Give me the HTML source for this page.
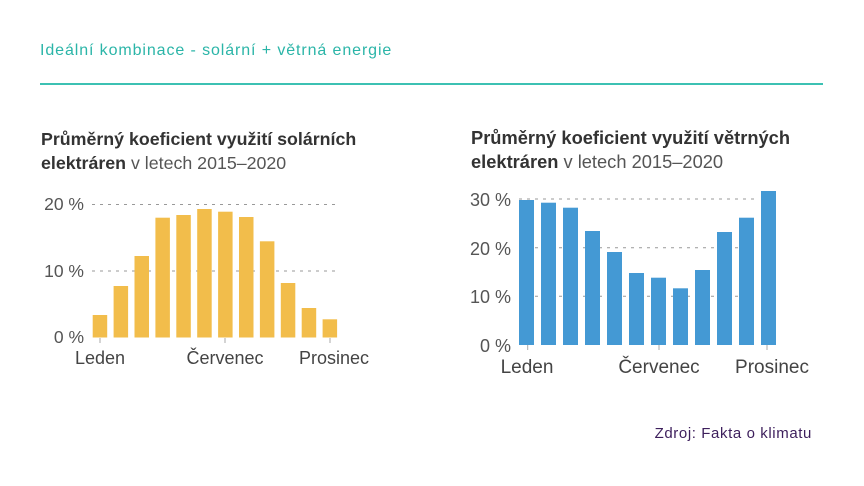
<!DOCTYPE html>
<html><head><meta charset="utf-8"><style>
body{margin:0;background:#fff;}
svg{display:block;font-family:"Liberation Sans",sans-serif;}
</style></head><body>
<svg width="864" height="486" viewBox="0 0 864 486">
<rect width="864" height="486" fill="#fff"/>
<text x="40" y="55" font-size="16" letter-spacing="0.9" fill="#2bb5a8">Ideální kombinace - solární + větrná energie</text>
<rect x="40" y="83" width="783" height="2" fill="#3cc1b3"/>

<!-- left chart -->
<text x="41" y="145" font-size="17.8" font-weight="bold" fill="#333">Průměrný koeficient využití solárních</text>
<text x="41" y="169" font-size="17.8" fill="#555"><tspan font-weight="bold" fill="#333">elektráren</tspan> v letech 2015–2020</text>
<g stroke="#999" stroke-dasharray="3,5" stroke-width="1">
<line x1="92" y1="204.5" x2="338" y2="204.5"/>
<line x1="92" y1="271" x2="338" y2="271"/>
</g>
<g font-size="17.5" fill="#555" text-anchor="end">
<text x="84" y="210">20 %</text><text x="84" y="277">10 %</text><text x="84" y="343">0 %</text>
</g>
<g fill="#f2bd4b">
<rect x="92.7" y="315" width="14.5" height="22.5"/>
<rect x="113.6" y="286" width="14.5" height="51.5"/>
<rect x="134.5" y="256" width="14.5" height="81.5"/>
<rect x="155.4" y="217.7" width="14.5" height="119.8"/>
<rect x="176.3" y="215" width="14.5" height="122.5"/>
<rect x="197.2" y="209" width="14.5" height="128.5"/>
<rect x="218.1" y="211.7" width="14.5" height="125.8"/>
<rect x="239" y="217" width="14.5" height="120.5"/>
<rect x="259.9" y="241.3" width="14.5" height="96.2"/>
<rect x="280.8" y="283" width="14.5" height="54.5"/>
<rect x="301.7" y="308" width="14.5" height="29.5"/>
<rect x="322.6" y="319.3" width="14.5" height="18.2"/>
</g>
<g stroke="#aaa"><line x1="100" y1="338" x2="100" y2="343"/><line x1="225" y1="338" x2="225" y2="343"/><line x1="330" y1="338" x2="330" y2="343"/></g>
<g font-size="18" fill="#444" text-anchor="middle">
<text x="100" y="364">Leden</text><text x="225" y="364">Červenec</text><text x="334" y="364">Prosinec</text>
</g>

<!-- right chart -->
<text x="471" y="144" font-size="18.3" font-weight="bold" fill="#333">Průměrný koeficient využití větrných</text>
<text x="471" y="168" font-size="18.3" fill="#555"><tspan font-weight="bold" fill="#333">elektráren</tspan> v letech 2015–2020</text>
<g stroke="#999" stroke-dasharray="3,5" stroke-width="1">
<line x1="519" y1="199" x2="758" y2="199"/>
<line x1="519" y1="247.7" x2="758" y2="247.7"/>
<line x1="519" y1="296.3" x2="758" y2="296.3"/>
</g>
<g font-size="18" fill="#555" text-anchor="end">
<text x="511" y="206">30 %</text><text x="511" y="255">20 %</text><text x="511" y="303">10 %</text><text x="511" y="352">0 %</text>
</g>
<g fill="#4499d4">
<rect x="519" y="200" width="15" height="145"/>
<rect x="541" y="202.7" width="15" height="142.3"/>
<rect x="563" y="207.7" width="15" height="137.3"/>
<rect x="585" y="231" width="15" height="114"/>
<rect x="607" y="252" width="15" height="93"/>
<rect x="629" y="273" width="15" height="72"/>
<rect x="651" y="277.7" width="15" height="67.3"/>
<rect x="673" y="288.3" width="15" height="56.7"/>
<rect x="695" y="270" width="15" height="75"/>
<rect x="717" y="232" width="15" height="113"/>
<rect x="739" y="217.7" width="15" height="127.3"/>
<rect x="761" y="191" width="15" height="154"/>
</g>
<g stroke="#aaa"><line x1="527.7" y1="345" x2="527.7" y2="350"/><line x1="659" y1="345" x2="659" y2="350"/><line x1="767" y1="345" x2="767" y2="350"/></g>
<g font-size="19" fill="#444" text-anchor="middle">
<text x="527" y="373">Leden</text><text x="659" y="373">Červenec</text><text x="772" y="373">Prosinec</text>
</g>

<text x="812" y="438" font-size="15" letter-spacing="0.6" fill="#3d1f5c" text-anchor="end">Zdroj: Fakta o klimatu</text>
</svg>
</body></html>
